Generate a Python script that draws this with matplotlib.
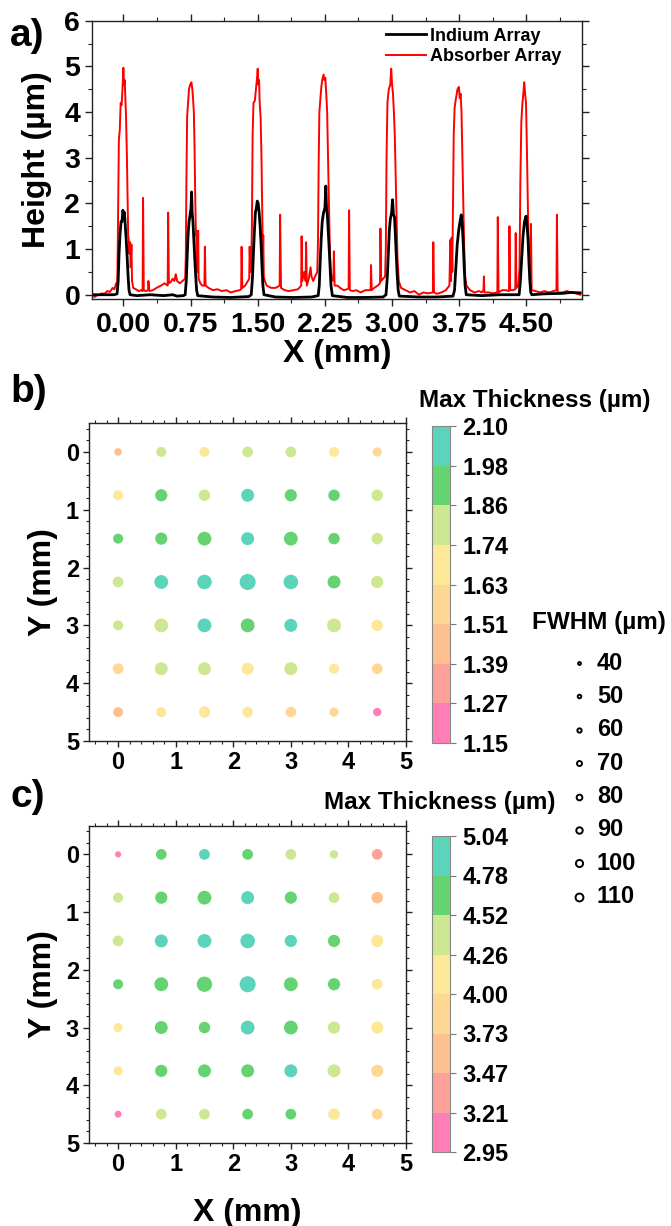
import numpy as np
import matplotlib
matplotlib.use("Agg")
import matplotlib.pyplot as plt
from matplotlib.colors import ListedColormap, BoundaryNorm
from matplotlib.lines import Line2D
from matplotlib.ticker import MultipleLocator, AutoMinorLocator

plt.rcParams['font.family'] = ['Liberation Sans', 'DejaVu Sans']
plt.rcParams['font.weight'] = 'bold'
plt.rcParams['axes.labelweight'] = 'bold'

# ---- panel a: line profiles (x in mm, height in um)
absorber_profile = [
    (-0.35, 0.02), (-0.32, -0.05), (-0.30, -0.02), (-0.27, 0.0), (-0.24, 0.03), (-0.21, 0.02),
    (-0.18, 0.08), (-0.15, 0.06), (-0.12, 0.15), (-0.10, 0.12), (-0.08, 0.25), (-0.07, 0.2),
    (-0.065, 0.6), (-0.058, 2.0), (-0.05, 3.4), (-0.04, 3.6), (-0.03, 4.2), (-0.02, 4.15),
    (-0.01, 4.5), (0.0, 4.97), (0.008, 4.6), (0.015, 4.7), (0.022, 4.3), (0.03, 3.9),
    (0.04, 3.0), (0.048, 2.0), (0.054, 1.3), (0.06, 1.2), (0.067, 0.9), (0.075, 1.15),
    (0.082, 0.6), (0.09, 1.1), (0.097, 0.3), (0.11, 0.15), (0.14, 0.12), (0.17, 0.08),
    (0.2, 0.1), (0.215, 0.08), (0.22, 2.12), (0.228, 0.1), (0.25, 0.08), (0.275, 0.1),
    (0.28, 0.3), (0.29, 0.08), (0.33, 0.1), (0.37, 0.15), (0.42, 0.2), (0.46, 0.25),
    (0.495, 0.2), (0.5, 1.8), (0.508, 0.25), (0.53, 0.28), (0.55, 0.35), (0.57, 0.3),
    (0.585, 0.45), (0.6, 0.3), (0.63, 0.25), (0.66, 0.3), (0.69, 0.35), (0.697, 0.8),
    (0.704, 2.5), (0.712, 3.9), (0.722, 4.2), (0.733, 4.5), (0.745, 4.6), (0.76, 4.65),
    (0.77, 4.5), (0.778, 4.3), (0.787, 4.0), (0.795, 3.2), (0.802, 2.2), (0.81, 1.3),
    (0.815, 1.4), (0.822, 0.6), (0.83, 0.5), (0.835, 1.4), (0.84, 0.35), (0.86, 0.25),
    (0.88, 0.2), (0.905, 0.2), (0.91, 1.05), (0.918, 0.2), (0.95, 0.15), (1.0, 0.1),
    (1.05, 0.12), (1.1, 0.08), (1.15, 0.1), (1.2, 0.05), (1.25, 0.08), (1.3, 0.1),
    (1.315, 0.12), (1.32, 1.05), (1.328, 0.15), (1.36, 0.2), (1.39, 0.3), (1.405, 0.35),
    (1.41, 1.05), (1.418, 0.5), (1.428, 0.6), (1.435, 1.5), (1.443, 3.5), (1.453, 4.2),
    (1.468, 4.25), (1.48, 4.5), (1.49, 4.7), (1.50, 4.95), (1.508, 4.6), (1.515, 4.7),
    (1.522, 4.2), (1.532, 3.9), (1.542, 3.0), (1.55, 1.8), (1.557, 0.9), (1.562, 1.3),
    (1.568, 0.4), (1.58, 0.3), (1.6, 0.2), (1.65, 0.15), (1.7, 0.15), (1.745, 0.2),
    (1.75, 1.75), (1.76, 0.15), (1.8, 0.1), (1.85, 0.08), (1.9, 0.1), (1.95, 0.12),
    (1.985, 0.2), (1.99, 1.28), (1.997, 0.3), (2.02, 0.5), (2.035, 0.3), (2.04, 1.15),
    (2.048, 0.2), (2.07, 0.35), (2.09, 0.6), (2.1, 0.4), (2.12, 0.3), (2.14, 0.4),
    (2.165, 0.5), (2.173, 1.2), (2.18, 2.8), (2.188, 4.0), (2.2, 4.3), (2.21, 4.55),
    (2.22, 4.7), (2.235, 4.82), (2.245, 4.7), (2.255, 4.75), (2.265, 4.4), (2.275, 4.0),
    (2.285, 3.0), (2.295, 2.0), (2.305, 1.0), (2.315, 0.5), (2.33, 0.35), (2.345, 0.3),
    (2.35, 0.95), (2.358, 0.2), (2.39, 0.2), (2.42, 0.15), (2.46, 0.1), (2.5, 0.12),
    (2.515, 0.15), (2.52, 1.85), (2.528, 0.1), (2.56, 0.08), (2.6, 0.1), (2.65, 0.05),
    (2.7, 0.1), (2.76, 0.1), (2.765, 0.65), (2.772, 0.1), (2.8, 0.15), (2.84, 0.2),
    (2.865, 0.25), (2.87, 1.45), (2.878, 0.3), (2.9, 0.35), (2.922, 0.4), (2.93, 1.0),
    (2.938, 3.0), (2.948, 4.2), (2.963, 4.5), (2.98, 4.6), (2.99, 4.95), (3.0, 4.6),
    (3.01, 4.4), (3.02, 4.0), (3.03, 3.5), (3.04, 2.6), (3.05, 1.6), (3.06, 0.8),
    (3.075, 0.3), (3.1, 0.15), (3.15, 0.1), (3.2, 0.05), (3.25, 0.08), (3.3, 0.0),
    (3.35, 0.05), (3.4, 0.03), (3.455, 0.05), (3.46, 1.15), (3.468, 0.05), (3.5, 0.02),
    (3.55, 0.05), (3.6, 0.1), (3.64, 0.2), (3.65, 1.2), (3.658, 0.3), (3.665, 1.25),
    (3.672, 0.5), (3.678, 1.6), (3.688, 3.5), (3.698, 4.1), (3.713, 4.3), (3.73, 4.5),
    (3.745, 4.55), (3.755, 4.3), (3.765, 4.4), (3.775, 4.0), (3.785, 3.0), (3.795, 2.0),
    (3.805, 1.0), (3.815, 0.4), (3.83, 0.2), (3.87, 0.1), (3.92, 0.05), (3.97, 0.08),
    (4.0, 0.05), (4.02, 0.1), (4.025, 0.4), (4.03, 0.05), (4.08, 0.05), (4.12, 0.03),
    (4.175, 0.05), (4.18, 1.7), (4.188, 0.05), (4.23, 0.1), (4.27, 0.1), (4.305, 0.08),
    (4.31, 1.5), (4.318, 0.1), (4.35, 0.1), (4.375, 0.12), (4.38, 1.35), (4.388, 0.15),
    (4.41, 0.2), (4.423, 0.6), (4.432, 2.5), (4.443, 3.8), (4.455, 4.2), (4.465, 4.4),
    (4.475, 4.65), (4.485, 4.4), (4.495, 4.2), (4.505, 3.2), (4.515, 2.0), (4.522, 1.2),
    (4.53, 0.6), (4.54, 0.3), (4.55, 1.55), (4.558, 0.1), (4.6, 0.08), (4.65, 0.05),
    (4.7, 0.08), (4.75, 0.05), (4.8, 0.08), (4.835, 0.1), (4.84, 1.75), (4.848, 0.05),
    (4.9, 0.05), (4.95, 0.08), (5.0, 0.05), (5.05, 0.03), (5.1, 0.0),
]

indium_profile = [
    (-0.35, 0.0), (-0.3, 0.0), (-0.2, 0.0), (-0.1, 0.0), (-0.07, 0.02), (-0.058, 0.3),
    (-0.048, 0.9), (-0.038, 1.3), (-0.026, 1.6), (-0.015, 1.6), (-0.005, 1.85), (0.005, 1.7),
    (0.012, 1.8), (0.022, 1.5), (0.032, 1.2), (0.043, 0.8), (0.053, 0.4), (0.063, 0.1),
    (0.075, 0.0), (0.15, -0.02), (0.3, 0.0), (0.45, -0.02), (0.55, 0.0), (0.6, -0.03),
    (0.67, -0.02), (0.69, 0.0), (0.702, 0.3), (0.712, 0.8), (0.722, 1.3), (0.733, 1.6),
    (0.745, 1.75), (0.755, 1.9), (0.762, 2.25), (0.768, 1.8), (0.777, 1.6), (0.787, 1.2),
    (0.797, 0.8), (0.808, 0.4), (0.818, 0.1), (0.83, -0.02), (1.0, -0.05), (1.2, -0.06),
    (1.4, -0.04), (1.428, 0.0), (1.442, 0.4), (1.452, 0.9), (1.463, 1.4), (1.474, 1.8),
    (1.485, 1.9), (1.495, 2.05), (1.505, 2.0), (1.516, 1.8), (1.527, 1.5), (1.538, 1.1),
    (1.548, 0.6), (1.558, 0.2), (1.57, 0.0), (1.7, -0.05), (1.9, -0.06), (2.1, -0.05),
    (2.175, -0.02), (2.187, 0.2), (2.197, 0.7), (2.208, 1.2), (2.22, 1.6), (2.235, 1.8),
    (2.25, 1.9), (2.26, 2.38), (2.268, 1.9), (2.277, 1.75), (2.287, 1.4), (2.298, 1.0),
    (2.308, 0.6), (2.318, 0.2), (2.333, -0.02), (2.5, -0.06), (2.7, -0.06), (2.9, -0.05),
    (2.932, 0.0), (2.947, 0.4), (2.958, 0.9), (2.969, 1.4), (2.98, 1.65), (2.995, 1.8),
    (3.005, 2.08), (3.015, 1.75), (3.027, 1.7), (3.037, 1.3), (3.048, 0.8), (3.058, 0.4),
    (3.068, 0.1), (3.08, -0.03), (3.3, -0.05), (3.5, -0.05), (3.68, -0.03), (3.697, 0.1),
    (3.712, 0.6), (3.727, 1.1), (3.743, 1.4), (3.758, 1.6), (3.772, 1.75), (3.784, 1.5),
    (3.795, 1.1), (3.805, 0.6), (3.815, 0.2), (3.828, 0.0), (4.0, -0.02), (4.2, 0.0),
    (4.418, 0.0), (4.432, 0.3), (4.447, 0.8), (4.462, 1.3), (4.478, 1.6), (4.495, 1.72),
    (4.507, 1.5), (4.518, 1.2), (4.528, 0.7), (4.538, 0.3), (4.548, 0.05), (4.56, 0.0),
    (4.7, 0.02), (4.9, 0.03), (5.0, 0.05), (5.1, 0.04),
]

a_xticks = [0.0, 0.75, 1.5, 2.25, 3.0, 3.75, 4.5]
a_xticklabels = ["0.00", "0.75", "1.50", "2.25", "3.00", "3.75", "4.50"]

# ---- panels b, c: 7x7 bump grid (rows = Y, cols = X)
grid_pos = [0.0, 0.75, 1.5, 2.25, 3.0, 3.75, 4.5]

thick_b = [
    [1.45, 1.80, 1.69, 1.81, 1.80, 1.68, 1.57],
    [1.68, 1.92, 1.80, 2.04, 1.93, 1.92, 1.80],
    [1.92, 1.93, 1.92, 2.04, 1.92, 1.92, 1.79],
    [1.80, 2.04, 2.03, 2.05, 2.04, 1.92, 1.80],
    [1.80, 1.80, 2.04, 1.92, 2.03, 1.80, 1.68],
    [1.57, 1.80, 1.79, 1.68, 1.80, 1.68, 1.57],
    [1.45, 1.68, 1.69, 1.68, 1.57, 1.56, 1.21],
]
fwhm_b = [
    [52, 68, 68, 73, 73, 68, 62],
    [68, 83, 78, 88, 83, 78, 78],
    [68, 83, 94, 88, 94, 78, 78],
    [73, 94, 99, 109, 99, 88, 83],
    [68, 94, 94, 94, 88, 94, 78],
    [73, 88, 88, 83, 88, 68, 73],
    [68, 68, 78, 73, 73, 62, 57],
]
thick_c = [
    [3.08, 4.65, 4.91, 4.66, 4.39, 4.38, 3.34],
    [4.39, 4.65, 4.64, 4.91, 4.65, 4.39, 3.60],
    [4.40, 4.91, 4.90, 4.92, 4.91, 4.65, 4.13],
    [4.65, 4.66, 4.65, 4.91, 4.65, 4.64, 4.13],
    [4.13, 4.65, 4.65, 4.90, 4.65, 4.39, 4.12],
    [4.13, 4.65, 4.66, 4.65, 4.91, 4.39, 3.86],
    [3.08, 4.39, 4.40, 4.65, 4.65, 4.13, 3.86],
]
fwhm_c = [
    [42, 73, 73, 73, 73, 57, 73],
    [68, 83, 94, 88, 83, 73, 78],
    [73, 88, 94, 99, 83, 83, 83],
    [68, 94, 104, 109, 94, 83, 73],
    [62, 88, 78, 94, 94, 83, 83],
    [62, 83, 88, 88, 88, 88, 83],
    [47, 73, 73, 73, 73, 78, 73],
]

bounds_b = [1.15, 1.26875, 1.3875, 1.50625, 1.625, 1.74375, 1.8625, 1.98125, 2.10]
labels_b = ["1.15", "1.27", "1.39", "1.51", "1.63", "1.74", "1.86", "1.98", "2.10"]
bounds_c = [2.95, 3.21125, 3.4725, 3.73375, 3.995, 4.25625, 4.5175, 4.77875, 5.04]
labels_c = ["2.95", "3.21", "3.47", "3.73", "4.00", "4.26", "4.52", "4.78", "5.04"]

level_colors = ["#ff80b8", "#ffa19b", "#ffc08f", "#ffd794", "#fde899",
                "#cde891", "#66d373", "#5cd3bb"]

fwhm_legend = [40, 50, 60, 70, 80, 90, 100, 110]

W, H = 671, 1226
fig = plt.figure(figsize=(W / 100, H / 100), dpi=100)


def rect(l, t, r, b):
    return [l / W, 1 - b / H, (r - l) / W, (b - t) / H]


def style_axes(ax, major, minor, labelsize):
    for s in ax.spines.values():
        s.set_linewidth(1.0)
        s.set_color("#222222")
    ax.tick_params(which="both", direction="out", top=True, right=True,
                   color="#222222", labelsize=labelsize)
    ax.tick_params(which="major", length=major, width=1.0)
    ax.tick_params(which="minor", length=minor, width=0.8)


# ---------------- panel a
ax_a = fig.add_axes(rect(92, 20.7, 582, 299.3))
ax_a.plot([p[0] for p in absorber_profile], [p[1] for p in absorber_profile],
          color="#ff0000", lw=1.4, label="Absorber Array")
ax_a.plot([p[0] for p in indium_profile], [p[1] for p in indium_profile],
          color="black", lw=2.0, label="Indium Array")
ax_a.set_xlim(-0.35, 5.12)
ax_a.set_ylim(-0.1, 6)
ax_a.set_xticks(a_xticks)
ax_a.set_xticklabels(a_xticklabels)
ax_a.xaxis.set_minor_locator(MultipleLocator(0.375))
ax_a.yaxis.set_major_locator(MultipleLocator(1))
ax_a.yaxis.set_minor_locator(MultipleLocator(0.5))
style_axes(ax_a, 5, 3, 20.5)
ax_a.tick_params(axis="x", pad=4)
ax_a.set_xlabel("X (mm)", fontsize=23)
ax_a.xaxis.set_label_coords(0.5, (299.3 - 354) / 278.6)
ax_a.xaxis.label.set_va("center")
ax_a.set_ylabel("Height (µm)", fontsize=23)
ax_a.yaxis.set_label_coords((37 - 92) / 490, (299.3 - 160) / 278.6)
ax_a.yaxis.label.set_va("center")
h, l = ax_a.get_legend_handles_labels()
ax_a.legend(h[::-1], l[::-1], loc="upper left", bbox_to_anchor=(0.6, 0.975),
            frameon=False, fontsize=13, handlelength=2.2, handletextpad=0.25,
            labelspacing=0.2, borderpad=0, borderaxespad=0)

# ---------------- panels b and c
panels = [
    (thick_b, fwhm_b, bounds_b, labels_b, 423, 741, 426, 743, "b)", 392, (535, 400)),
    (thick_c, fwhm_c, bounds_c, labels_c, 825.5, 1143, 836, 1152, "c)", 797, (440, 803)),
]
gx, gy = np.meshgrid(grid_pos, grid_pos)
cmap = ListedColormap(level_colors)

for i, (thick, fwhm, bounds, labs, top, bot, ctop, cbot, tag, tag_y, ttl) in enumerate(panels):
    ax = fig.add_axes(rect(89.3, top, 406, bot))
    norm = BoundaryNorm(bounds, cmap.N)
    sizes = (np.array(fwhm, dtype=float) * 0.106) ** 2
    sc = ax.scatter(gx.ravel(), gy.ravel(), c=np.array(thick).ravel(), s=sizes.ravel(),
                    cmap=cmap, norm=norm, edgecolors="none")
    ax.set_xlim(-0.5, 5)
    ax.set_ylim(5, -0.5)
    ax.xaxis.set_major_locator(MultipleLocator(1))
    ax.yaxis.set_major_locator(MultipleLocator(1))
    ax.xaxis.set_minor_locator(AutoMinorLocator(5))
    ax.yaxis.set_minor_locator(AutoMinorLocator(5))
    style_axes(ax, 4, 2.5, 17)
    ax.set_ylabel("Y (mm)", fontsize=23)
    ax.yaxis.set_label_coords((43 - 89.3) / 316.7, 0.5)
    ax.yaxis.label.set_va("center")
    if i == 1:
        ax.set_xlabel("X (mm)", fontsize=23)
        ax.xaxis.set_label_coords(0.5, (bot - 1213) / (bot - top))
        ax.xaxis.label.set_va("center")

    cax = fig.add_axes(rect(432, ctop, 450, cbot))
    cb = fig.colorbar(sc, cax=cax, ticks=bounds, spacing="uniform")
    cb.ax.set_yticklabels(labs)
    cb.outline.set_edgecolor("#888888")
    cb.outline.set_linewidth(0.8)
    cb.ax.tick_params(length=4, width=0.8, color="#777777", labelsize=17, pad=5)
    cb.ax.minorticks_off()

    fig.text(10 / W, 1 - tag_y / H, tag, fontsize=28, weight="bold", ha="left", va="center")
    fig.text(ttl[0] / W, 1 - ttl[1] / H, "Max Thickness (µm)", fontsize=17.5,
             weight="bold", ha="center", va="center")

fig.text(10 / W, 1 - 36 / H, "a)", fontsize=28, weight="bold", ha="left", va="center")

# ---------------- FWHM size legend
fig.text(599 / W, 1 - 623 / H, "FWHM (µm)", fontsize=17.5, weight="bold",
         ha="center", va="center")
for k, f in enumerate(fwhm_legend):
    yy = 1 - (663 + k * 33.4) / H
    fig.add_artist(Line2D([579 / W], [yy], transform=fig.transFigure, marker="o",
                          markersize=f / 14 * 0.72, markerfacecolor="none",
                          markeredgecolor="black", markeredgewidth=1.4, linestyle="none"))
    fig.text(597 / W, yy, str(f), fontsize=17, weight="bold", ha="left", va="center")

fig.savefig("out.png", dpi=100)
